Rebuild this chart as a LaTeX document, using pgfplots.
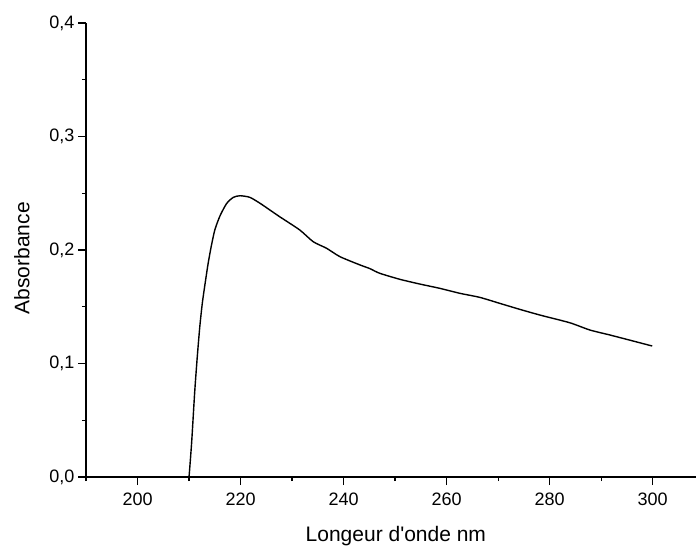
\documentclass[border=0pt]{standalone}
\usepackage{fontspec}
\setmainfont{Liberation Sans}
\usepackage{pgfplots}
\pgfplotsset{compat=1.18}
\usetikzlibrary{calc}

\begin{document}
\begin{tikzpicture}
\begin{axis}[
  scale only axis,
  width=610pt, height=454pt,
  xmin=190, xmax=308.4,
  ymin=0, ymax=0.4,
  axis x line*=bottom, axis y line*=left,
  axis line style={line width=1.5pt},
  xtick={200,220,...,300},
  minor xtick={190,210,...,310},
  ytick={0,0.1,0.2,0.3,0.4},
  minor ytick={0.05,0.15,0.25,0.35},
  tick align=outside,
  major tick length=8pt,
  minor tick length=4pt,
  every tick/.style={line width=1.3pt, black},
  tick label style={font=\fontsize{18}{20}\selectfont},
  /pgf/number format/assume math mode=true,
  yticklabel style={/pgf/number format/.cd, use comma, fixed, fixed zerofill, precision=1},
  xticklabel style={yshift=-4pt, /pgf/number format/.cd, fixed, set thousands separator={}},
  xlabel={Longeur d\textquotesingle onde nm},
  ylabel={Absorbance},
  label style={font=\fontsize{21}{24}\selectfont},
  xlabel style={at={(axis description cs:0.508,0)}, anchor=center, yshift=-59pt},
  ylabel style={at={(axis description cs:-0.105,0.482)}, anchor=center},
  clip=false,
]
\addplot[black, line width=1.4pt, smooth, tension=0.4] coordinates {
(210.0,0.0000) (210.5,0.0300) (211.1,0.0750) (211.6,0.1060) (212.1,0.1330)
(212.6,0.1540) (213.2,0.1730) (213.7,0.1880) (214.3,0.2030) (215.0,0.2176)
(216.0,0.2300) (217.3,0.2410) (218.6,0.2464) (219.9,0.2478) (221.8,0.2464)
(223.8,0.2411) (225.7,0.2352) (227.6,0.2293) (231.5,0.2176) (234.1,0.2073)
(236.7,0.2015) (239.3,0.1941) (243.2,0.1868) (245.1,0.1836) (247.0,0.1795)
(250.9,0.1742) (254.8,0.1700) (258.7,0.1662) (262.6,0.1618) (266.4,0.1583)
(270.3,0.1530) (274.2,0.1477) (278.1,0.1427) (283.9,0.1359) (287.8,0.1295)
(291.7,0.1251) (296.2,0.1198) (299.9,0.1154)
};
\coordinate (o) at (rel axis cs:0,0);
\end{axis}
\pgfresetboundingbox
\useasboundingbox ($(o)+(-86pt,-72pt)$) rectangle ($(o)+(610pt,477pt)$);
\end{tikzpicture}
\end{document}
